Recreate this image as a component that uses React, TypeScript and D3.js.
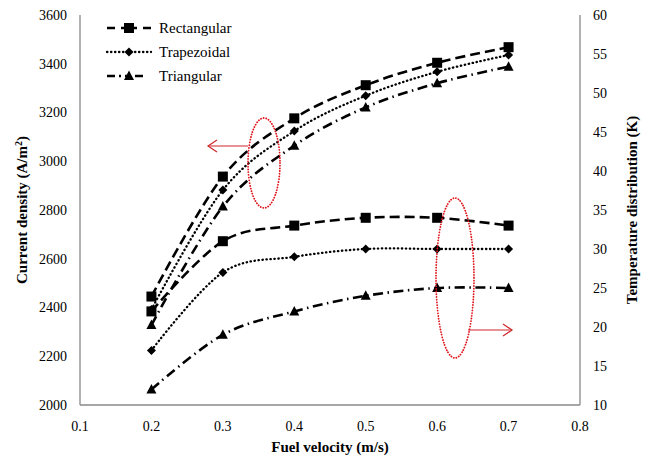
import React from "react";
import * as d3 from "d3";

const velocity = [0.2, 0.3, 0.4, 0.5, 0.6, 0.7];
const rectCurrent = [2445, 2937, 3176, 3312, 3404, 3468];
const trapCurrent = [2392, 2882, 3124, 3269, 3367, 3436];
const triCurrent = [2328, 2814, 3064, 3221, 3320, 3388];
const rectTemp = [22, 31, 33, 34, 34, 33];
const trapTemp = [17, 27, 29, 30, 30, 30];
const triTemp = [12, 19, 22, 24, 25, 25];
const xTicks = [0.1, 0.2, 0.3, 0.4, 0.5, 0.6, 0.7, 0.8];
const leftTicks = [2000, 2200, 2400, 2600, 2800, 3000, 3200, 3400, 3600];
const rightTicks = [10, 15, 20, 25, 30, 35, 40, 45, 50, 55, 60];
const seriesNames = ["Rectangular", "Trapezoidal", "Triangular"];

const W = 653, H = 461;
const L = 80, R = 580, T = 15, B = 405;
const FONT = "Liberation Serif";

const styles = [
  { dash: "10,5", width: 2.6, marker: "square" },
  { dash: "0.4,3.6", width: 2.3, marker: "diamond", cap: "round" },
  { dash: "10,4.5,1.5,4.5", width: 2.6, marker: "triangle" },
];

function Marker({ type, x, y }: { type: string; x: number; y: number }) {
  if (type === "square") return <rect x={x - 5} y={y - 5} width={10} height={10} fill="#000" />;
  if (type === "diamond")
    return <path d={`M${x},${y - 4.5}L${x + 4.5},${y}L${x},${y + 4.5}L${x - 4.5},${y}Z`} fill="#000" />;
  return <path d={`M${x},${y - 5.5}L${x + 5},${y + 4}L${x - 5},${y + 4}Z`} fill="#000" />;
}

const txt = { fontFamily: FONT };

export default function App() {
  const x = d3.scaleLinear().domain([0.1, 0.8]).range([L, R]);
  const yL = d3.scaleLinear().domain([2000, 3600]).range([B, T]);
  const yR = d3.scaleLinear().domain([10, 60]).range([B, T]);
  const curve = d3.curveCardinal.tension(0);

  const currents = [rectCurrent, trapCurrent, triCurrent];
  const temps = [rectTemp, trapTemp, triTemp];

  const lineL = d3.line<number>().x((_, i) => x(velocity[i])).y((d) => yL(d)).curve(curve);
  const lineR = d3.line<number>().x((_, i) => x(velocity[i])).y((d) => yR(d)).curve(curve);

  const renderSeries = (vals: number[], s: any, lineFn: any, yScale: any, key: string) => (
    <g key={key}>
      <path d={lineFn(vals)} fill="none" stroke="#000" strokeWidth={s.width} strokeDasharray={s.dash}
        strokeLinecap={s.cap || "butt"} />
      {vals.map((v, i) => (
        <Marker key={i} type={s.marker} x={x(velocity[i])} y={yScale(v)} />
      ))}
    </g>
  );

  return (
    <svg width={W} height={H} style={{ position: "absolute", left: 0, top: 0, background: "#fff", fontFamily: FONT }}>
      <rect width={W} height={H} fill="#fff" />
      {/* axes */}
      <line x1={L} y1={T} x2={L} y2={B} stroke="#898989" strokeWidth={1.3} />
      <line x1={L} y1={B} x2={R} y2={B} stroke="#898989" strokeWidth={1.3} />
      <line x1={R} y1={T} x2={R} y2={B} stroke="#898989" strokeWidth={1.3} />
      {leftTicks.map((t) => (
        <text key={t} style={txt} x={L - 13} y={yL(t)} dy="0.35em" textAnchor="end" fontSize={14}>{t}</text>
      ))}
      {rightTicks.map((t) => (
        <text key={t} style={txt} x={R + 13} y={yR(t)} dy="0.35em" textAnchor="start" fontSize={14}>{t}</text>
      ))}
      {xTicks.map((t) => (
        <text key={t} style={txt} x={x(t)} y={B + 21} dy="0.35em" textAnchor="middle" fontSize={14}>{t.toFixed(1)}</text>
      ))}
      <text style={txt} x={(L + R) / 2} y={452} textAnchor="middle" fontSize={15} fontWeight="bold">Fuel velocity (m/s)</text>
      <text style={txt} transform={`translate(27,${(T + B) / 2}) rotate(-90)`} textAnchor="middle" fontSize={15} fontWeight="bold">
        Current density (A/m<tspan dy="-5" fontSize={10}>2</tspan><tspan dy="5">)</tspan>
      </text>
      <text style={txt} transform={`translate(637,${(T + B) / 2}) rotate(-90)`} textAnchor="middle" fontSize={15} fontWeight="bold">
        Temperature distribution (K)
      </text>

      {currents.map((c, i) => renderSeries(c, styles[i], lineL, yL, "c" + i))}
      {temps.map((c, i) => renderSeries(c, styles[i], lineR, yR, "t" + i))}

      {/* annotations */}
      <ellipse cx={264} cy={163} rx={16} ry={45} fill="none" stroke="#e0151b" strokeWidth={1.8}
        strokeDasharray="0.1,2.6" strokeLinecap="round" />
      <line x1={248} y1={146} x2={208} y2={146} stroke="#d0282c" strokeWidth={1.2} />
      <path d="M217,140L208,146L217,152" fill="none" stroke="#d0282c" strokeWidth={1.2} />
      <ellipse cx={455} cy={278} rx={19} ry={80} fill="none" stroke="#e0151b" strokeWidth={1.8}
        strokeDasharray="0.1,2.6" strokeLinecap="round" />
      <line x1={468} y1={330} x2={512} y2={330} stroke="#d0282c" strokeWidth={1.2} />
      <path d="M503,324L512,330L503,336" fill="none" stroke="#d0282c" strokeWidth={1.2} />

      {/* legend */}
      {seriesNames.map((n, i) => {
        const yy = 28 + i * 24;
        const s = styles[i];
        return (
          <g key={n}>
            <line x1={107} y1={yy} x2={151} y2={yy} stroke="#000" strokeWidth={s.width}
              strokeDasharray={i === 0 ? "8,6,16,6,8" : i === 1 ? "0.4,3.6" : "8,4,2,4,6,4,8"}
              strokeLinecap={s.cap || "butt"} />
            <Marker type={s.marker} x={129} y={yy} />
            <text style={txt} x={159} y={yy} dy="0.35em" fontSize={15}>{n}</text>
          </g>
        );
      })}
    </svg>
  );
}
